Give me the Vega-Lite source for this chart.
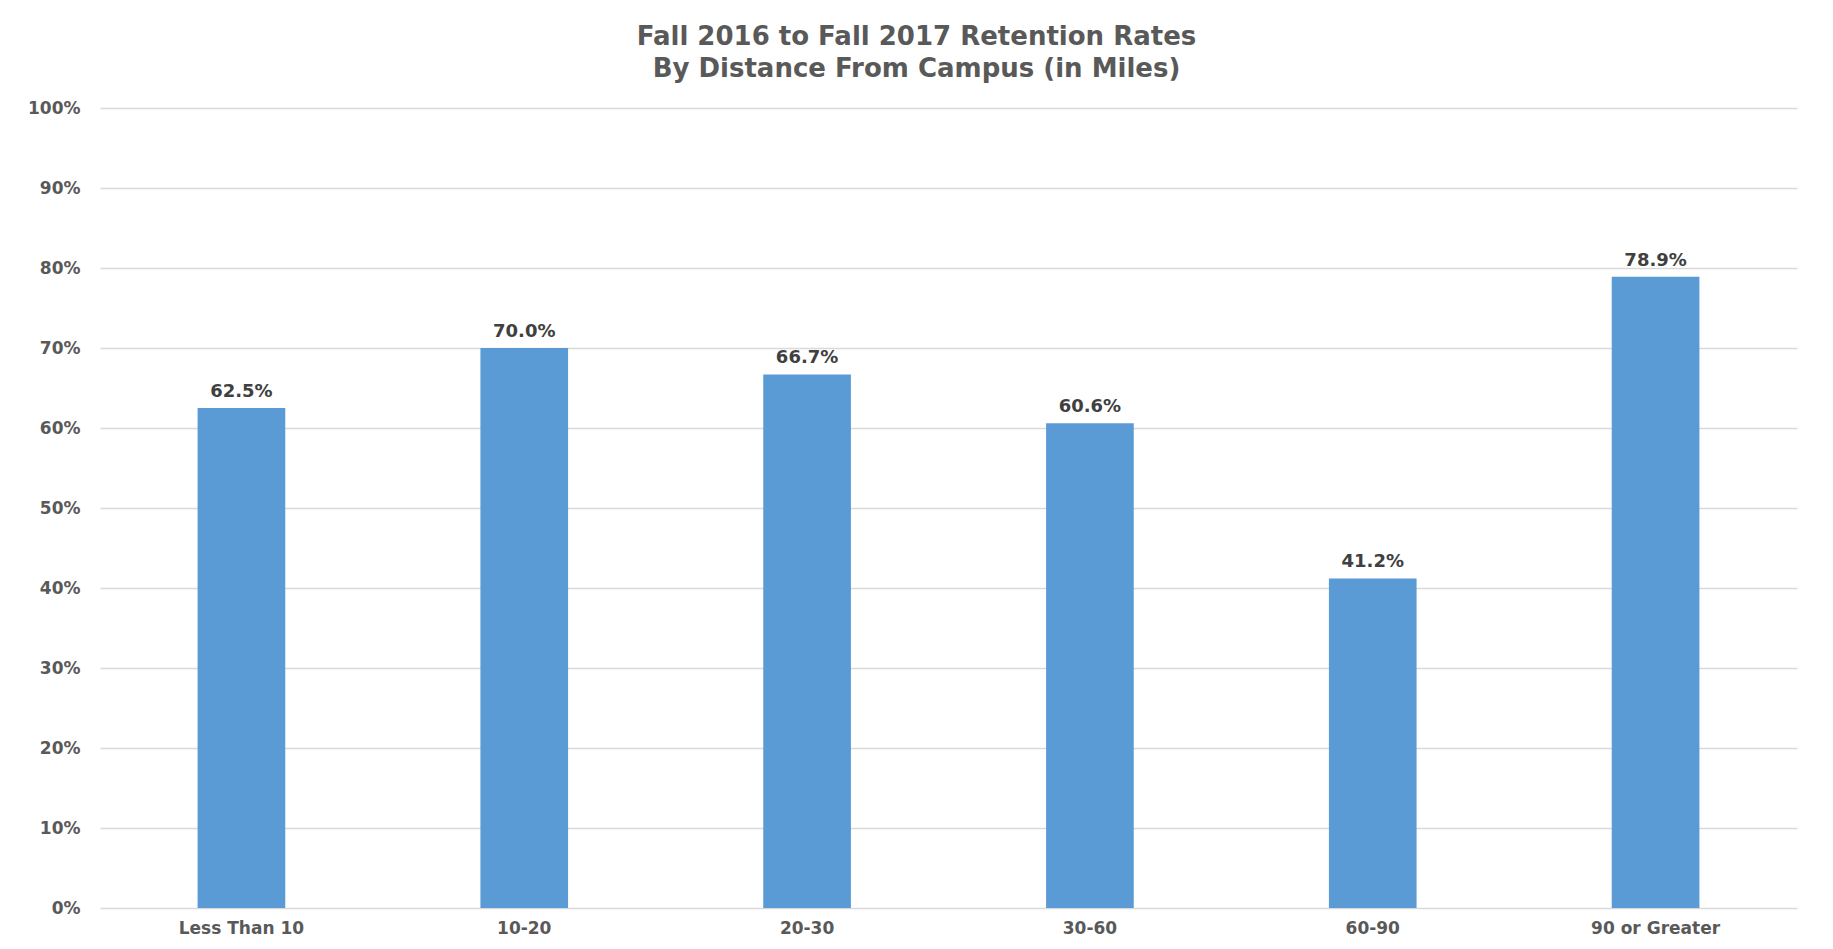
{
  "$schema": "https://vega.github.io/schema/vega-lite/v6.json",
  "autosize": "none",
  "width": 1697,
  "height": 800,
  "padding": {"left": 100, "top": 108, "right": 36, "bottom": 41},
  "background": "white",
  "title": {
    "text": ["Fall 2016 to Fall 2017 Retention Rates", "By Distance From Campus (in Miles)"],
    "font": "DejaVu Sans",
    "fontSize": 26,
    "fontWeight": "bold",
    "color": "#595959",
    "lineHeight": 32,
    "anchor": "middle",
    "frame": "group",
    "dx": -32,
    "offset": 17
  },
  "data": {
    "values": [
      {"distance": "Less Than 10", "rate": 0.625},
      {"distance": "10-20", "rate": 0.700},
      {"distance": "20-30", "rate": 0.667},
      {"distance": "30-60", "rate": 0.606},
      {"distance": "60-90", "rate": 0.412},
      {"distance": "90 or Greater", "rate": 0.789}
    ]
  },
  "encoding": {
    "x": {
      "field": "distance",
      "type": "nominal",
      "sort": null,
      "scale": {"paddingInner": 0.69, "paddingOuter": 0.345},
      "axis": {
        "title": null,
        "labelAngle": 0,
        "labelFont": "DejaVu Sans",
        "labelFontSize": 17,
        "labelFontWeight": "bold",
        "labelColor": "#595959",
        "labelPadding": 12,
        "ticks": false,
        "domain": false,
        "grid": false
      }
    },
    "y": {
      "field": "rate",
      "type": "quantitative",
      "scale": {"domain": [0, 1], "nice": false},
      "axis": {
        "title": null,
        "format": ".0%",
        "values": [0, 0.1, 0.2, 0.3, 0.4, 0.5, 0.6, 0.7, 0.8, 0.9, 1.0],
        "labelFont": "DejaVu Sans",
        "labelFontSize": 17,
        "labelFontWeight": "bold",
        "labelColor": "#595959",
        "labelPadding": 20,
        "ticks": false,
        "domain": false,
        "grid": true,
        "gridColor": "#d9d9d9",
        "gridWidth": 1.5
      }
    }
  },
  "layer": [
    {"mark": {"type": "bar", "color": "#5b9bd5"}},
    {
      "mark": {
        "type": "text",
        "baseline": "alphabetic",
        "dy": -11,
        "font": "DejaVu Sans",
        "fontSize": 18,
        "fontWeight": "bold",
        "color": "#404040"
      },
      "encoding": {"text": {"field": "rate", "type": "quantitative", "format": ".1%"}}
    }
  ],
  "config": {"view": {"stroke": null}}
}
